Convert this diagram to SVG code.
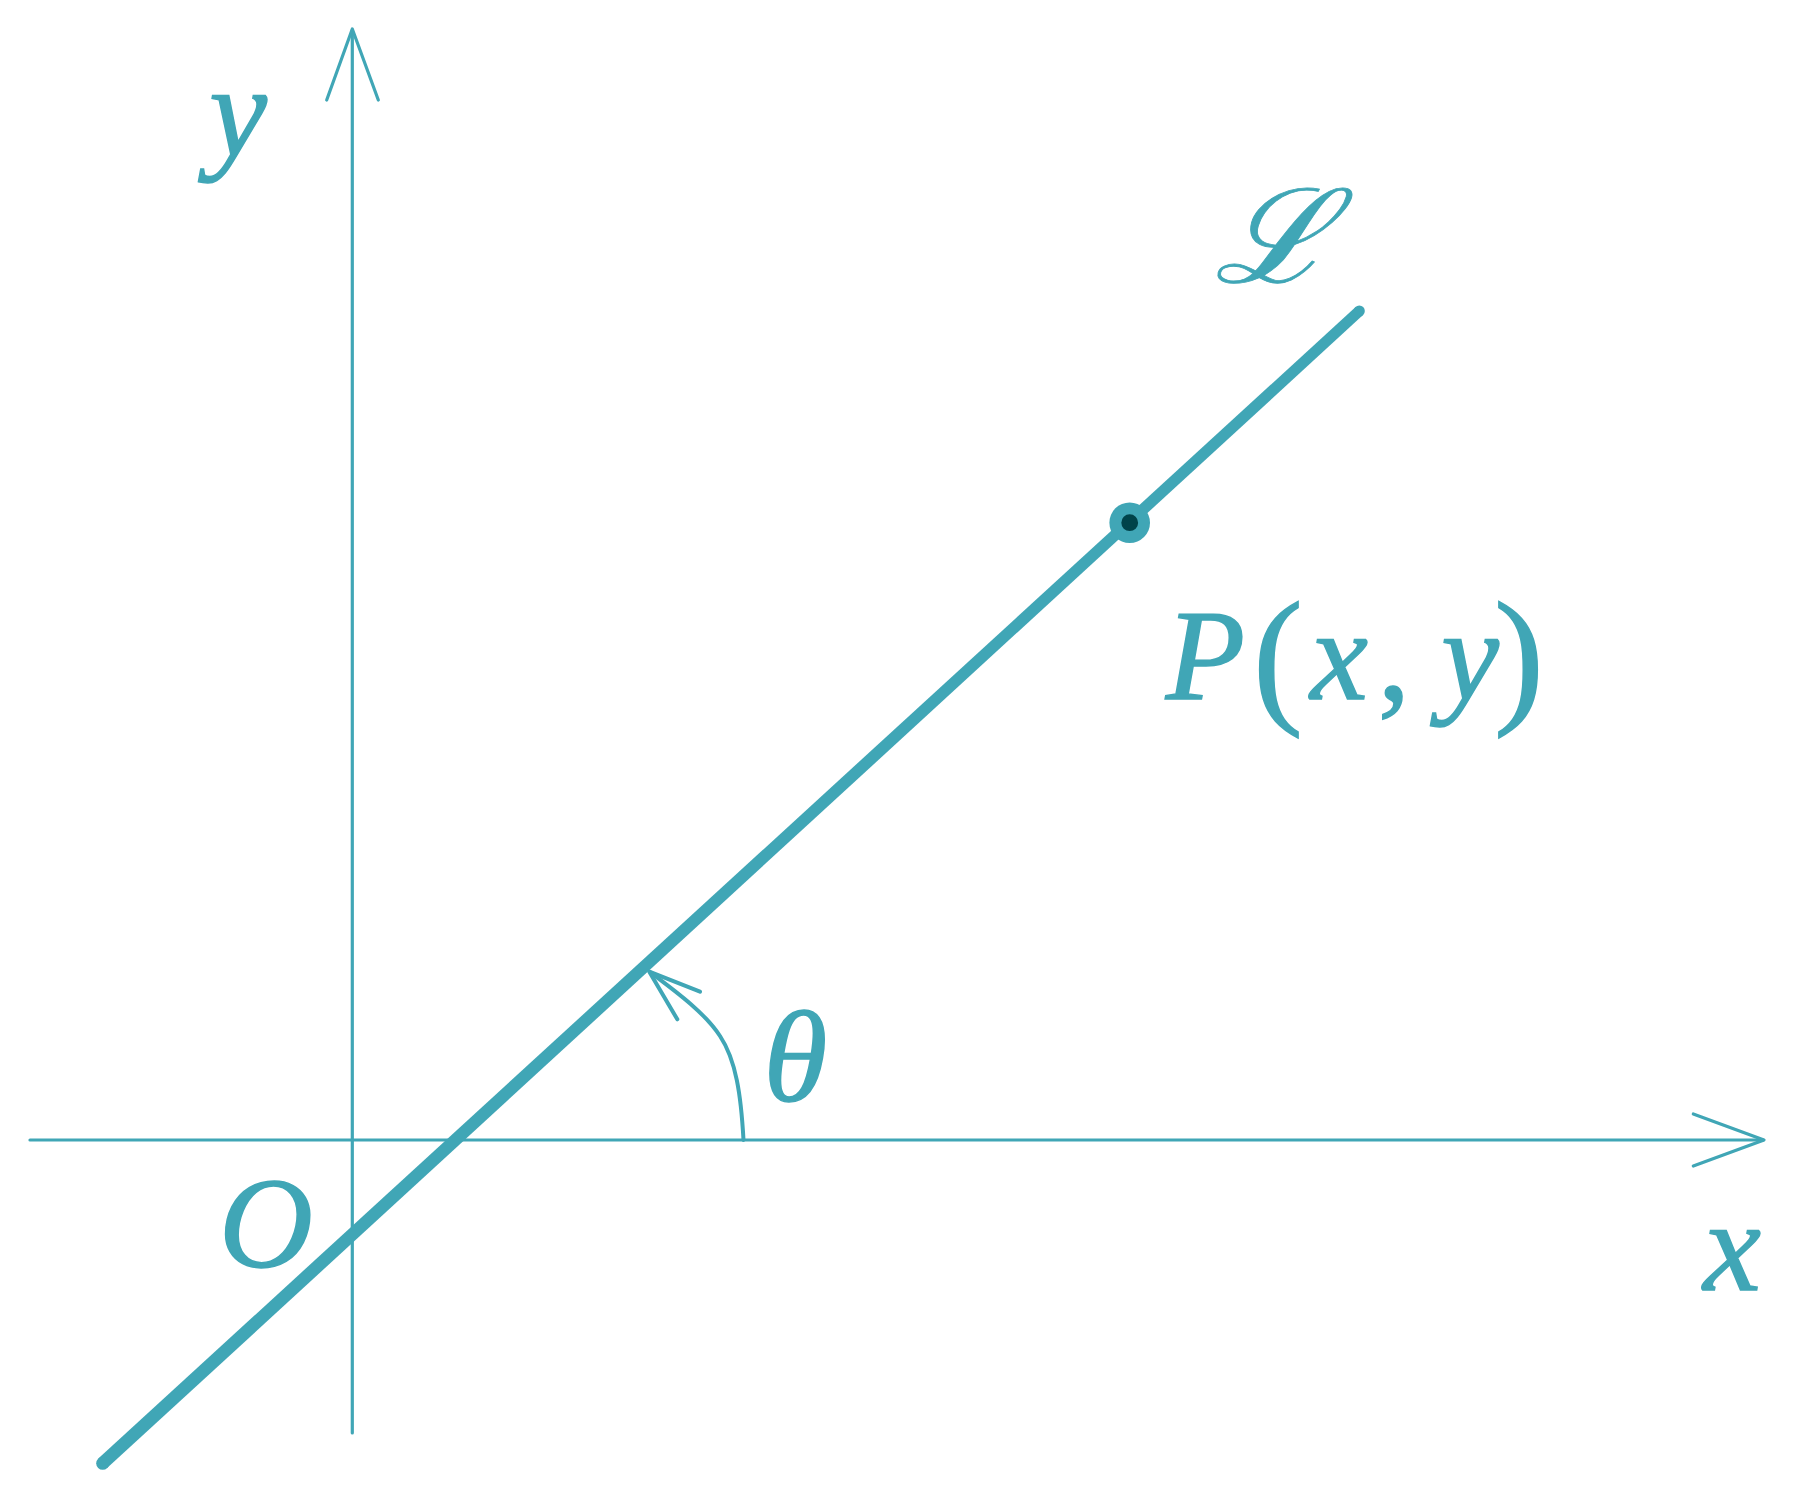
<svg xmlns="http://www.w3.org/2000/svg" width="1794" height="1494" viewBox="0 0 1794 1494">
<style>
.ax{fill:none;stroke:#40a6b6;stroke-width:3.2;stroke-linecap:round;stroke-linejoin:round}
.arc{fill:none;stroke:#40a6b6;stroke-width:4;stroke-linecap:round;stroke-linejoin:round}
.lbl{fill:#40a6b6;stroke:#40a6b6;stroke-width:1.4;font-family:"Liberation Serif","Times New Roman",serif;font-style:italic;font-size:130px;text-anchor:middle}
.up{font-style:normal}
</style>
<rect width="1794" height="1494" fill="#ffffff"/>
<g id="axes">
<line class="ax" x1="30" y1="1140" x2="1763" y2="1140"/>
<polyline class="ax" points="1693.3,1114 1764,1140 1693.3,1166"/>
<line class="ax" x1="352.3" y1="1433" x2="352.3" y2="30"/>
<polyline class="ax" points="326.7,100 352.3,29 378.3,100"/>
</g>
<g id="connectors">
<polygon id="lineL" fill="#40a6b6" points="98.3,1458.5 1355.6,307.0 1363.0,315.1 107.1,1468.1"/>
<circle cx="102.7" cy="1463.3" r="6.5" fill="#40a6b6"/>
<circle cx="1359.3" cy="311" r="5.5" fill="#40a6b6"/>
<path class="arc" d="M743.5,1140 C741,1095 736,1060 720,1036 C705,1013 678,993 650,972"/>
<polyline class="arc" points="700,991.7 649.3,971.7 677.3,1019.3"/>
</g>
<g id="point-P">
<circle cx="1129.7" cy="522.7" r="20.3" fill="#40a6b6"/>
<circle cx="1129.7" cy="522.7" r="8.4" fill="#00434a"/>
</g>
<g id="label-y"><text class="lbl" x="238" y="155">y</text></g>
<g id="label-x"><text class="lbl" x="1732" y="1290">x</text></g>
<g id="label-O"><text class="lbl" x="266" y="1267" font-size="134">O</text></g>
<g id="label-theta"><text class="lbl" x="795.5" y="1101" font-size="134">θ</text></g>
<g id="label-L"><text class="lbl" x="1273" y="282" font-size="125" textLength="118" lengthAdjust="spacingAndGlyphs" style="stroke-width:0.8">ℒ</text></g>
<g id="label-P"><text class="lbl" y="699"><tspan x="1205.5" y="699">P</tspan><tspan x="1278" y="706" class="up" font-size="150">(</tspan><tspan x="1339" y="699">x</tspan><tspan x="1394" y="699" class="up">,</tspan><tspan x="1470" y="699">y</tspan><tspan x="1519" y="706" class="up" font-size="150">)</tspan></text></g>
</svg>
